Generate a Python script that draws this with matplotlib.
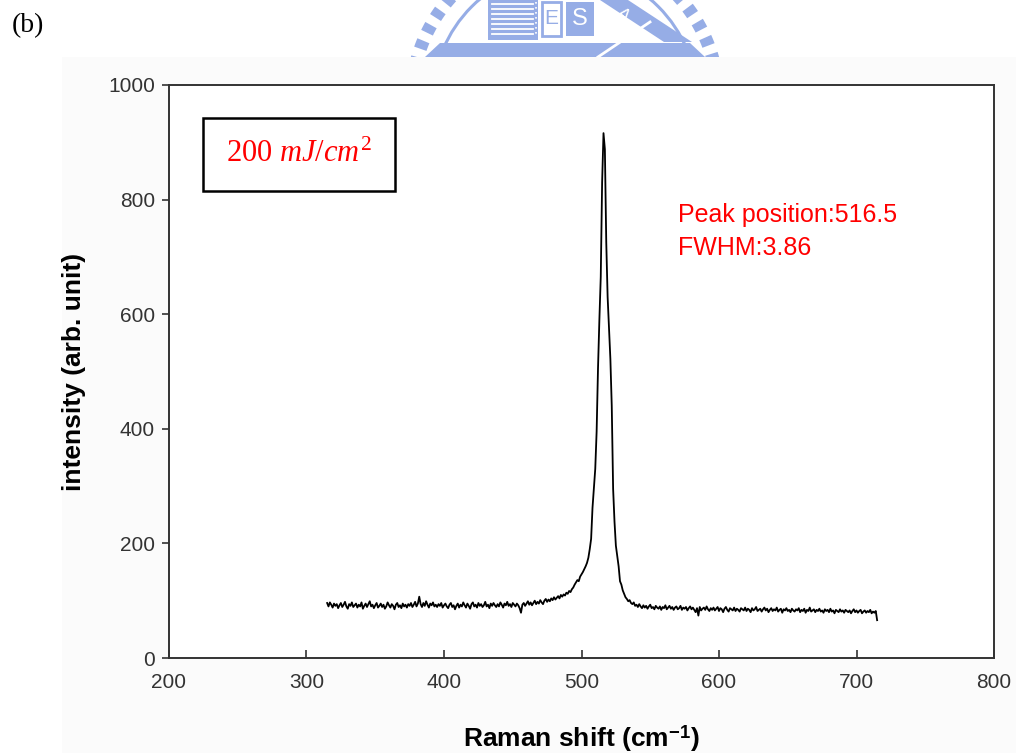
import numpy as np
import matplotlib
matplotlib.use("Agg")
import matplotlib.pyplot as plt
from matplotlib.patches import Rectangle, Wedge, Circle, Polygon

# Raman spectrum, one sample per cm^-1 starting at 315 cm^-1
shift_start = 315
intensity = [
    96, 90, 97, 93, 88, 95, 91, 94, 87, 92, 96, 89, 93, 98, 90, 86, 94, 91, 97, 89,
    92, 95, 88, 93, 90, 97, 86, 91, 95, 89, 94, 99, 90, 93, 87, 92, 96, 88, 91, 95,
    89, 93, 86, 90, 97, 92, 88, 94, 91, 85, 93, 96, 89, 92, 87, 95, 90, 93, 88, 94,
    91, 96, 89, 93, 98, 90, 95, 107, 94, 89, 96, 91, 99, 93, 88, 95, 92, 97, 90, 93,
    89, 94, 91, 96, 88, 92, 95, 90, 87, 93, 96, 89, 92, 85, 91, 95, 88, 93, 90, 97,
    92, 88, 95, 91, 86, 94, 97, 90, 93, 88, 96, 91, 94, 89, 92, 98, 90, 93, 87, 95,
    91, 96, 92, 89, 94, 90, 97, 93, 88, 95, 92, 98, 91, 94, 89, 96, 93, 90, 95, 92,
    87, 79, 93, 96, 91, 95, 99, 93, 97, 92, 96, 100, 94, 98, 95, 101, 97, 94, 100, 103,
    98, 102, 99, 104, 101, 106, 102, 105, 108, 104, 110, 107, 111, 109, 114, 112, 117, 115, 120, 123,
    128, 132, 136, 134, 142, 146, 150, 155, 160, 166, 175, 190, 208, 262, 296, 330, 395, 505, 590, 665,
    830, 916, 888, 726, 630, 578, 522, 440, 295, 238, 196, 178, 160, 134, 128, 118, 112, 106, 103, 99,
    101, 96, 94, 97, 91, 93, 89, 94, 90, 87, 92, 88, 91, 86, 90, 93, 87, 89, 85, 91,
    88, 86, 90, 84, 89, 87, 92, 85, 88, 91, 86, 89, 84, 88, 90, 85, 87, 91, 84, 88,
    86, 89, 83, 87, 90, 85, 88, 84, 80, 87, 74, 89, 83, 86, 88, 84, 90, 85, 82, 87,
    84, 88, 83, 86, 89, 82, 87, 85, 80, 86, 89, 84, 81, 87, 85, 83, 88, 82, 86, 84,
    81, 87, 85, 83, 88, 82, 86, 84, 80, 87, 83, 85, 89, 82, 84, 86, 81, 85, 88, 83,
    86, 80, 84, 87, 82, 85, 83, 88, 81, 84, 86, 79, 85, 83, 87, 82, 84, 80, 86, 83,
    81, 85, 83, 87, 80, 84, 82, 86, 79, 84, 82, 88, 81, 83, 85, 80, 84, 82, 86, 81,
    83, 79, 85, 82, 84, 80, 86, 81, 83, 78, 84, 82, 80, 85, 81, 83, 79, 84, 82, 80,
    83, 78, 82, 85, 80, 83, 79, 82, 84, 78, 81, 83, 79, 82, 80, 84, 78, 81, 79, 82,
    66,
]
shift = np.arange(shift_start, shift_start + len(intensity))

x_ticks = [200, 300, 400, 500, 600, 700, 800]
y_ticks = [0, 200, 400, 600, 800, 1000]
peak_position = 516.5
fwhm = 3.86
fluence = 200

plt.rcParams["font.family"] = ["Liberation Sans", "DejaVu Sans"]
plt.rcParams["mathtext.fontset"] = "custom"
plt.rcParams["mathtext.rm"] = "Liberation Serif"
plt.rcParams["mathtext.it"] = "Liberation Serif:italic"
plt.rcParams["mathtext.bf"] = "Liberation Sans:bold"

W, H = 1016, 753
fig = plt.figure(figsize=(W / 100, H / 100), dpi=100)
fig.patch.set_facecolor("white")

# pale panel behind the chart
panel = fig.add_axes([62 / W, 0, 1 - 62 / W, 1 - 57 / H])
panel.set_facecolor("#fbfbfb")
panel.set_xticks([])
panel.set_yticks([])
for sp in panel.spines.values():
    sp.set_visible(False)
panel.set_zorder(0)

# watermark strip across the top, drawn in pixel units
logo = fig.add_axes([0, 1 - 57 / H, 1, 57 / H])
logo.set_xlim(0, W)
logo.set_ylim(57, 0)
logo.axis("off")
logo.set_zorder(1)
blue = "#96ade6"
cx, cy = 565, 100
for ang in np.arange(180, 361, 6.5):
    logo.add_patch(Wedge((cx, cy), 160, ang, ang + 3.2, width=13,
                         facecolor=blue, edgecolor="none"))
logo.add_patch(Circle((cx, cy), 132, fill=False, edgecolor=blue, lw=2.2))
logo.add_patch(Polygon([(440, 43), (690, 43), (705, 57), (425, 57)],
                       closed=True, facecolor=blue, edgecolor="none"))
logo.add_patch(Rectangle((488, 0), 50, 40, facecolor=blue, edgecolor="none"))
for yy in range(4, 38, 5):
    logo.plot([492, 533], [yy, yy], color="white", lw=1.3)
logo.plot([536, 536], [2, 36], color="white", lw=1.2, ls=(0, (1, 2)))
logo.add_patch(Rectangle((542, 2), 19, 34, facecolor="white", edgecolor=blue, lw=2))
logo.text(551.5, 19, "E", color=blue, fontsize=15, ha="center", va="center")
logo.add_patch(Rectangle((566, 2), 28, 34, facecolor=blue, edgecolor="none"))
logo.text(580, 19, "S", color="white", fontsize=17, ha="center", va="center")
logo.add_patch(Polygon([(600, 0), (628, 0), (692, 42), (664, 42)],
                       closed=True, facecolor=blue, edgecolor="none"))
logo.text(622, 15, "A", color="white", fontsize=13, rotation=-40,
          ha="center", va="center")
logo.plot([598, 650], [57, 22], color="white", lw=2)

# main spectrum axes
ax = fig.add_axes([169 / W, 95 / H, 825 / W, 573 / H])
ax.set_zorder(2)
ax.set_facecolor("white")
ax.plot(shift, intensity, color="black", lw=1.3)
ax.set_xlim(200, 800)
ax.set_ylim(0, 1000)
ax.set_xticks(x_ticks)
ax.set_yticks(y_ticks)
ax.tick_params(axis="x", direction="in", length=6, width=1.2, pad=11,
               labelsize=15, labelcolor="#333333", color="#333333")
ax.tick_params(axis="y", direction="out", length=5, width=1.2, pad=5,
               labelsize=15, labelcolor="#333333", color="#333333")
for sp in ax.spines.values():
    sp.set_color("#333333")
    sp.set_linewidth(1.4)

ax.set_xlabel(r"Raman shift (cm$^{\mathbf{-1}}$)", fontsize=19,
              fontweight="bold", labelpad=22)
ax.set_ylabel("intensity (arb. unit)", fontsize=19, fontweight="bold",
              labelpad=16)

# fluence label in a framed box
ax.add_patch(Rectangle((0.041, 0.815), 0.233, 0.127, transform=ax.transAxes,
                       facecolor="white", edgecolor="black", lw=1.8, zorder=3))
ax.text(0.1576, 0.8787, rf"{fluence} $mJ/cm^{{2}}$", transform=ax.transAxes,
        family="Liberation Serif", fontsize=22, color="red",
        ha="center", va="center", zorder=4)

ax.text(570, 773, f"Peak position:{peak_position}", color="red", fontsize=18,
        va="center")
ax.text(570, 716, f"FWHM:{fwhm}", color="red", fontsize=18, va="center")

fig.text(12 / W, 1 - 26 / H, "(b)", family="Liberation Serif", fontsize=20,
         va="center")

fig.savefig("out.png", dpi=100)
